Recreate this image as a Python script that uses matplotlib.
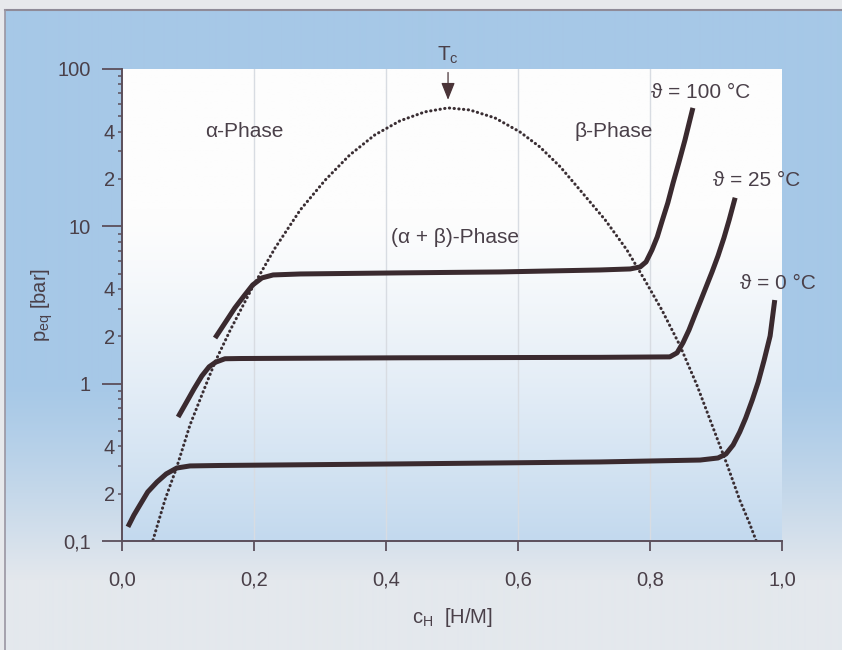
import numpy as np
import matplotlib
matplotlib.use("Agg")
import matplotlib.pyplot as plt
from matplotlib.ticker import FixedLocator, FixedFormatter

plt.rcParams['font.family'] = ['Liberation Sans', 'DejaVu Sans']
plt.rcParams['mathtext.fontset'] = 'custom'
plt.rcParams['mathtext.rm'] = 'Liberation Sans'

# ---------------- data ----------------
c_100 = [0.141, 0.156, 0.171, 0.186, 0.198, 0.212, 0.229, 0.270, 0.421, 0.573,
         0.724, 0.770, 0.785, 0.794, 0.803, 0.811, 0.818, 0.827, 0.835, 0.844,
         0.853, 0.859, 0.865]
p_100 = [1.95, 2.43, 3.03, 3.66, 4.24, 4.70, 4.91, 4.98, 5.06, 5.13,
         5.28, 5.36, 5.52, 5.94, 7.08, 8.57, 10.7, 14.1, 18.9, 25.7,
         35.4, 44.8, 56.6]

c_25 = [0.085, 0.097, 0.109, 0.121, 0.132, 0.142, 0.156, 0.179, 0.421, 0.724,
        0.830, 0.841, 0.850, 0.859, 0.868, 0.876, 0.885, 0.894, 0.903, 0.912,
        0.920, 0.929]
p_25 = [0.614, 0.753, 0.925, 1.12, 1.28, 1.37, 1.44, 1.445, 1.46, 1.47,
        1.48, 1.57, 1.82, 2.19, 2.73, 3.31, 4.12, 5.13, 6.48, 8.44,
        11.0, 15.2]

c_0 = [0.009, 0.018, 0.027, 0.039, 0.053, 0.067, 0.083, 0.103, 0.148, 0.421,
       0.724, 0.876, 0.903, 0.915, 0.926, 0.936, 0.945, 0.955, 0.964, 0.973,
       0.982, 0.989]
p_0 = [0.123, 0.146, 0.169, 0.205, 0.237, 0.267, 0.291, 0.300, 0.302, 0.309,
       0.318, 0.327, 0.337, 0.357, 0.408, 0.493, 0.605, 0.788, 1.025, 1.415,
       2.01, 3.40]

c_gap = [0.047, 0.065, 0.083, 0.103, 0.121, 0.141, 0.164, 0.198, 0.232, 0.270,
         0.308, 0.345, 0.383, 0.421, 0.459, 0.494, 0.527, 0.565, 0.603, 0.633,
         0.664, 0.694, 0.732, 0.765, 0.792, 0.818, 0.845, 0.871, 0.894, 0.917,
         0.936, 0.950, 0.961]
p_gap = [0.1015, 0.182, 0.295, 0.546, 0.848, 1.374, 2.19, 4.12, 7.29, 12.7,
         19.7, 28.4, 38.1, 46.8, 53.4, 56.6, 54.9, 48.9, 39.8, 32.0,
         23.9, 17.0, 11.0, 7.08, 4.56, 2.94, 1.76, 0.981, 0.546, 0.304,
         0.182, 0.132, 0.100]

x_ticks = [0.0, 0.2, 0.4, 0.6, 0.8, 1.0]
x_ticklabels = ['0,0', '0,2', '0,4', '0,6', '0,8', '1,0']
y_major = [0.1, 1, 10, 100]
y_major_labels = ['0,1', '1', '10', '100']
y_minor = [0.2, 0.3, 0.4, 0.5, 0.6, 0.7, 0.8, 0.9,
           2, 3, 4, 5, 6, 7, 8, 9,
           20, 30, 40, 50, 60, 70, 80, 90]
y_minor_labels = ['2', '', '4', '', '', '', '', '',
                  '2', '', '4', '', '', '', '', '',
                  '2', '', '4', '', '', '', '', '']

labels_temp = ['ϑ = 100 °C', 'ϑ = 25 °C', 'ϑ = 0 °C']

# ---------------- styling ----------------
W, H = 842, 650
TXT = '#4a4049'
CURVE = '#3a2a2f'
AXC = '#5b4f5b'
FS = 15
TFS = 14.5

fig = plt.figure(figsize=(W / 100, H / 100), dpi=100)
fig.patch.set_facecolor('#e7e9ec')

# background panel (blue, fading to pale at bottom)
bg = fig.add_axes([0, 0, 1, 1], zorder=-10)
bg.set_xlim(0, W)
bg.set_ylim(H, 0)
bg.axis('off')
rows = np.arange(10, H)
top_col = np.array([0xa6, 0xc8, 0xe7]) / 255
bot_col = np.array([0xe4, 0xe8, 0xed]) / 255
t = np.clip((rows - 380) / (580 - 380), 0, 1) ** 1.2
grad = (top_col[None, :] * (1 - t[:, None]) + bot_col[None, :] * t[:, None])
grad = np.repeat(grad[:, None, :], 2, axis=1)
bg.imshow(grad, extent=(5, W, H, 10), aspect='auto', interpolation='bilinear')
bg.plot([5, W], [10, 10], color='#8f8b98', lw=1.5)
bg.plot([5, 5], [10, H], color='#9a96a2', lw=1.2)

# main axes
L, R, T, B = 122, 782, 69, 541
ax = fig.add_axes([L / W, 1 - B / H, (R - L) / W, (B - T) / H])
ax.set_facecolor('white')
ax.set_yscale('log')

# plot-area gradient (white at top, light blue at bottom)
n = 200
yy = np.linspace(0, 1, n)  # 0 = top
tt = np.clip((yy - 0.30) / 0.70, 0, 1) ** 1.3
c_top = np.array([0xfd, 0xfd, 0xfd]) / 255
c_bot = np.array([0xc3, 0xd9, 0xee]) / 255
g2 = c_top[None, :] * (1 - tt[:, None]) + c_bot[None, :] * tt[:, None]
g2 = np.repeat(g2[:, None, :], 2, axis=1)
ax.imshow(g2, extent=(0, 1, 0, 1), transform=ax.transAxes, aspect='auto',
          interpolation='bilinear', zorder=0)
ax.set_xlim(0, 1)
ax.set_ylim(0.1, 100)

# faint vertical grid lines
for xv in x_ticks[1:-1]:
    ax.axvline(xv, color='#d8dce2', lw=1.0, zorder=1)

# curves
for cc, pp in [(c_100, p_100), (c_25, p_25), (c_0, p_0)]:
    ax.plot(cc, pp, color=CURVE, lw=3.6, solid_capstyle='butt',
            solid_joinstyle='round', zorder=4)
ax.plot(c_gap, p_gap, color='#3a2e33', lw=2.2, linestyle=(0, (0.1, 1.45)),
        dash_capstyle='round', zorder=3)

# spines / ticks
for s in ['top', 'right']:
    ax.spines[s].set_visible(False)
for s in ['left', 'bottom']:
    ax.spines[s].set_color(AXC)
    ax.spines[s].set_linewidth(1.4)
    ax.spines[s].set_zorder(5)

ax.set_xticks(x_ticks)
ax.set_xticklabels(x_ticklabels)
ax.yaxis.set_major_locator(FixedLocator(y_major))
ax.yaxis.set_major_formatter(FixedFormatter(y_major_labels))
ax.yaxis.set_minor_locator(FixedLocator(y_minor))
ax.yaxis.set_minor_formatter(FixedFormatter(y_minor_labels))
ax.xaxis.set_minor_locator(FixedLocator([]))

ax.tick_params(axis='x', which='major', length=7, width=1.3, pad=14,
               color=AXC, labelcolor=TXT, labelsize=TFS, direction='out')
ax.tick_params(axis='y', which='major', length=14.5, width=1.3, pad=8,
               color=AXC, labelcolor=TXT, labelsize=TFS, direction='out')
ax.tick_params(axis='y', which='minor', length=3, width=1.1, pad=2.0,
               color=AXC, labelcolor=TXT, labelsize=TFS, direction='out')

ax.set_xlabel('c$_\\mathregular{H}$  [H/M]', fontsize=TFS, color=TXT, labelpad=12)
ax.set_ylabel('p$_\\mathregular{eq}$ [bar]', fontsize=TFS, color=TXT, labelpad=1.5)

# annotations
ax.text(0.186, 39.8, 'α-Phase', fontsize=FS, color=TXT, ha='center', va='center', zorder=6)
ax.text(0.745, 39.8, 'β-Phase', fontsize=FS, color=TXT, ha='center', va='center', zorder=6)
ax.text(0.505, 8.44, '(α + β)-Phase', fontsize=FS, color=TXT, ha='center', va='center', zorder=6)
ax.text(0.877, 70.5, labels_temp[0], fontsize=FS, color=TXT, ha='center', va='center', zorder=6)
ax.text(0.962, 19.7, labels_temp[1], fontsize=FS, color=TXT, ha='center', va='center',
        zorder=6, clip_on=False)
ax.text(0.994, 4.36, labels_temp[2], fontsize=FS, color=TXT, ha='center', va='center',
        zorder=6, clip_on=False)

ax.annotate('', xy=(0.494, 63.7), xytext=(0.494, 95), xycoords='data',
            arrowprops=dict(arrowstyle='-|>,head_width=0.28,head_length=0.7',
                            color='#4a3438', lw=0.9, mutation_scale=15,
                            shrinkA=0, shrinkB=0),
            annotation_clip=False, zorder=6)
ax.text(0.494, 122, 'T$_\\mathregular{c}$', fontsize=FS, color=TXT, ha='center',
        va='center', clip_on=False)

fig.savefig('out.png', dpi=100, facecolor=fig.get_facecolor())
